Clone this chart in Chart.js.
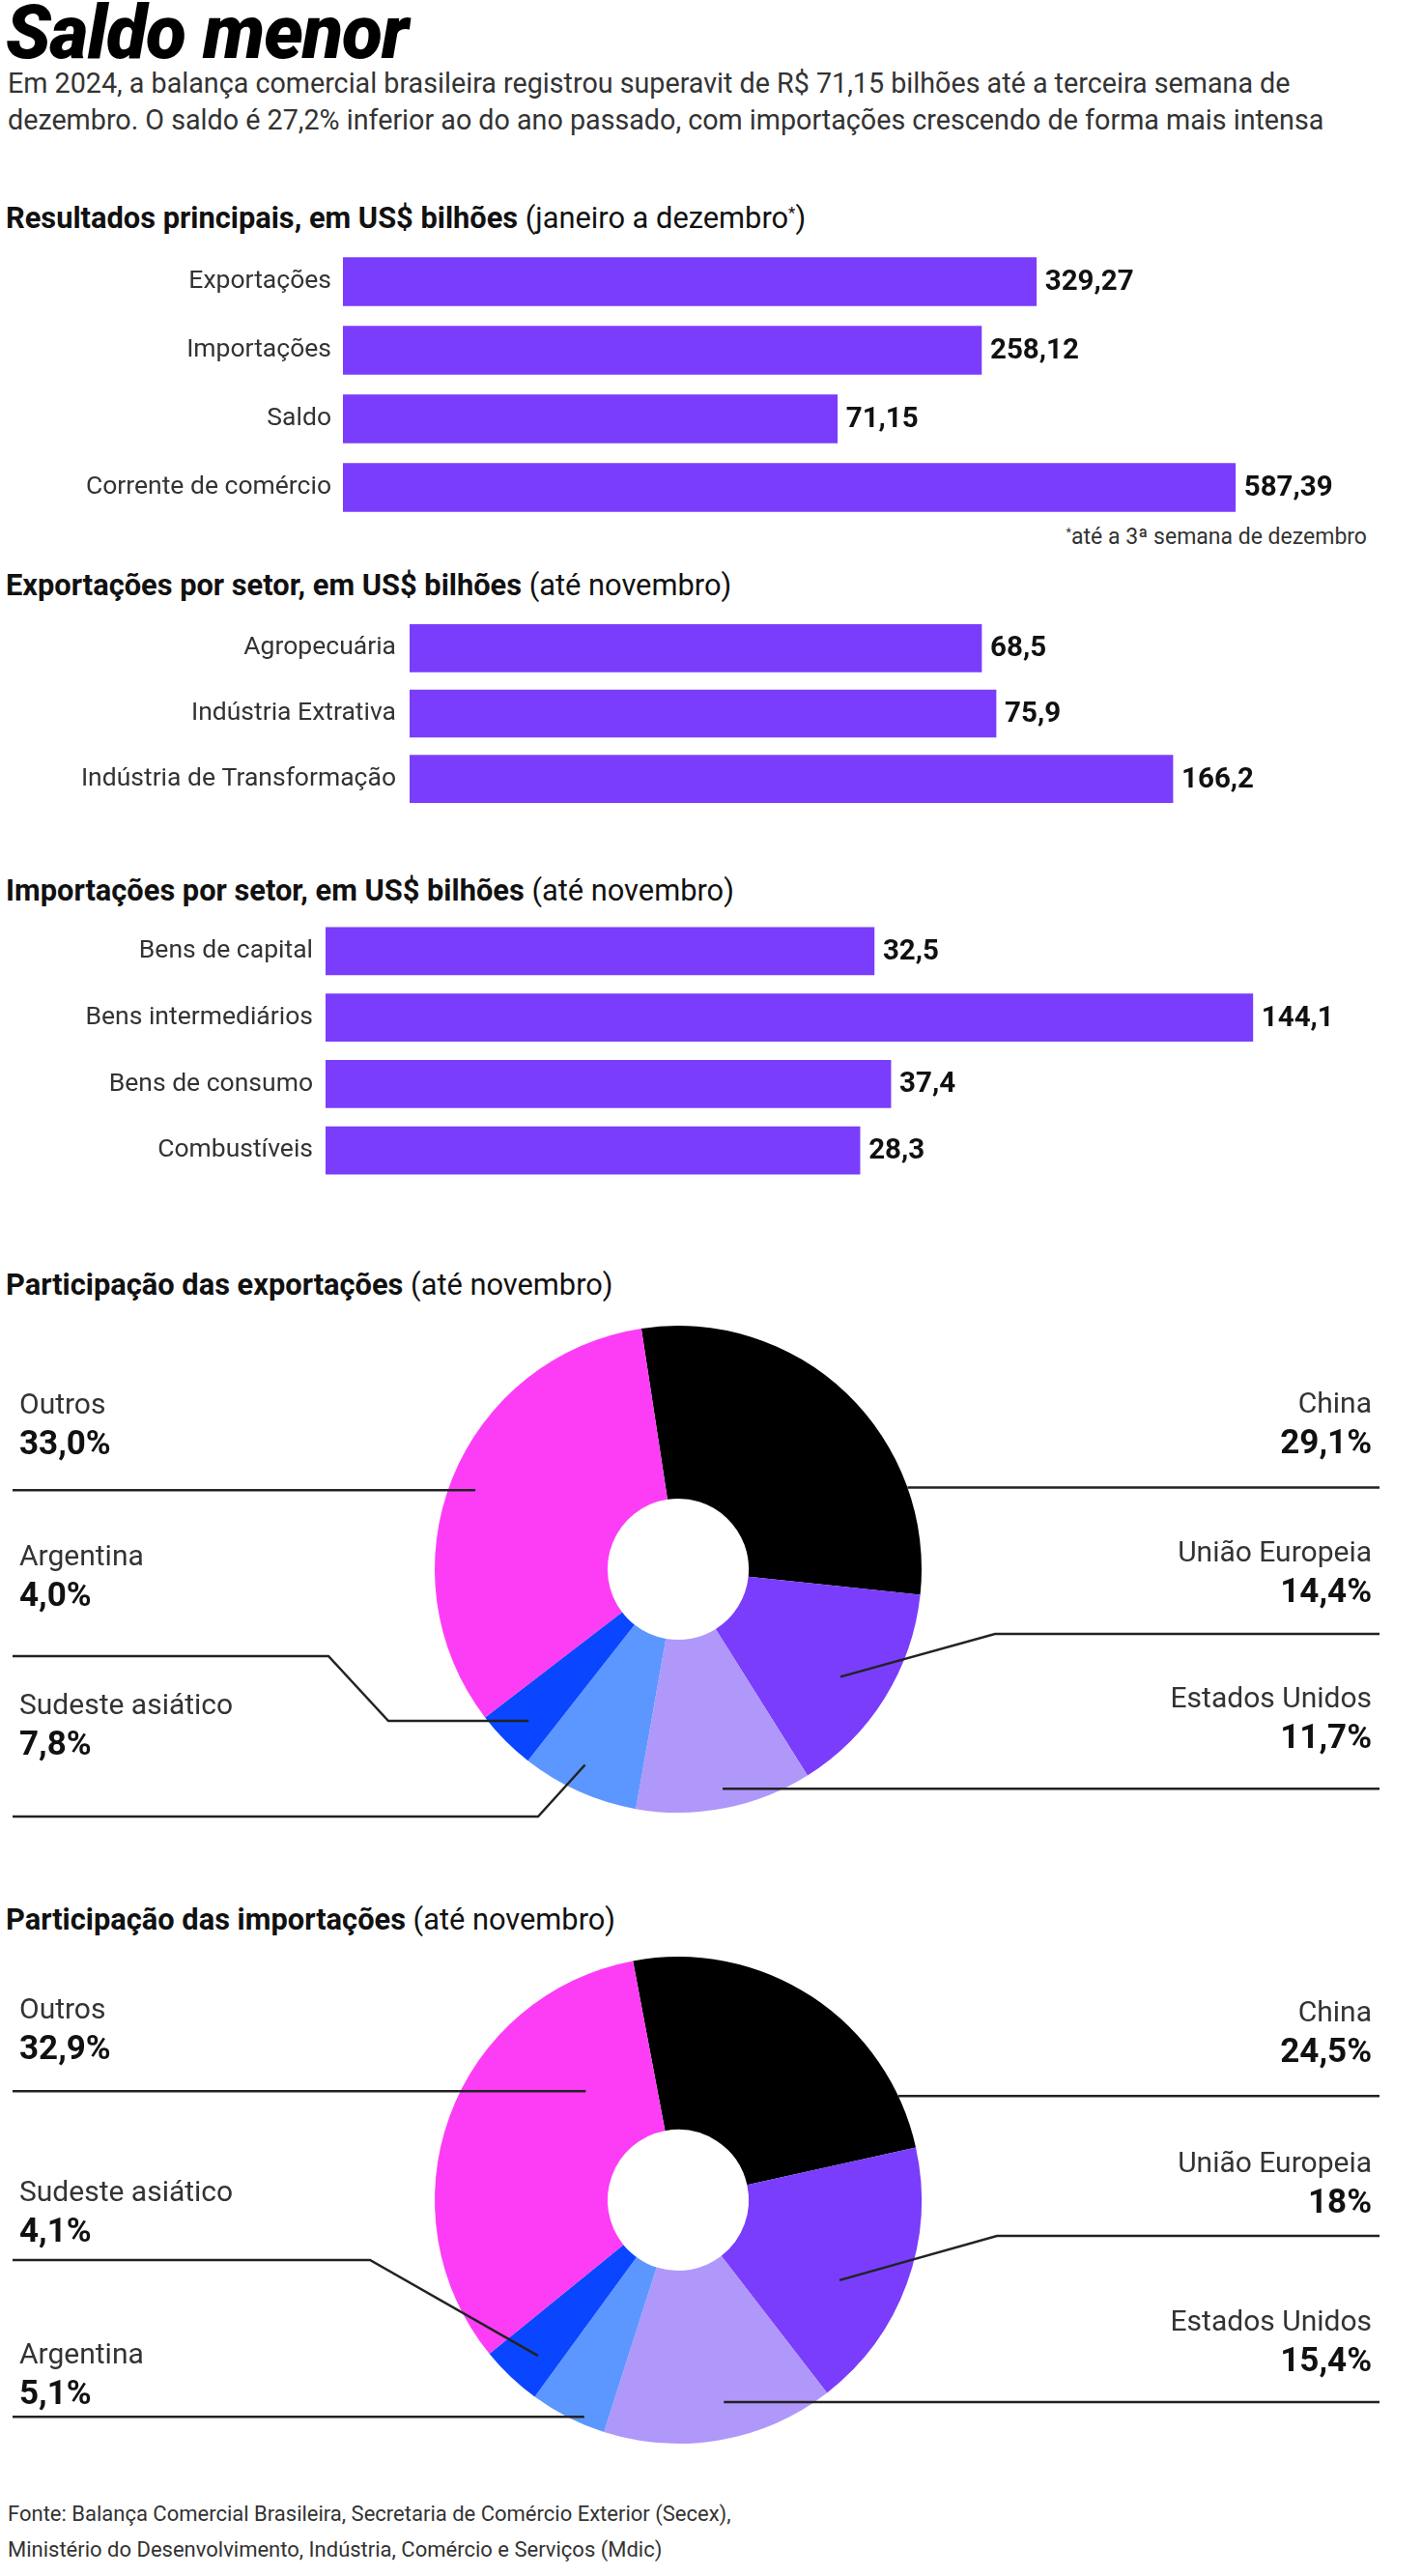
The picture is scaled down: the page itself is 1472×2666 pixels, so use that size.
<!DOCTYPE html>
<html lang="pt-BR">
<head>
<meta charset="utf-8">
<title>Saldo menor</title>
<script src="https://cdn.jsdelivr.net/npm/chart.js@4.4.1/dist/chart.umd.min.js"></script>
<style>
  body { margin: 0; background: #fff; font-family: Roboto, "Noto Sans", sans-serif; color: #333; }
  #pagina { position: relative; width: 1472px; height: 2666px; overflow: hidden; background: #fff; }
  .txt { position: absolute; white-space: nowrap; margin: 0; }
  h1.txt { left: 6px; top: -4px; font-size: 77px; line-height: 77px; font-weight: 900; font-style: italic; color: #000; letter-spacing: -1px; }
  .sub { left: 8px; top: 67px; font-size: 28.7px; line-height: 38px; color: #333; }
  .secao { left: 6px; font-size: 30.8px; line-height: 30px; color: #111; }
  .secao b { font-weight: 700; }
  .nota { right: 57px; top: 543px; font-size: 23px; line-height: 26px; color: #333; }
  .fonte { left: 8px; top: 2583px; font-size: 22px; line-height: 37px; color: #333; }
  sup { font-size: 0.55em; vertical-align: 0.6em; line-height: 0; }
  canvas { position: absolute; left: 0; }
</style>
</head>
<body>
<div id="pagina">
  <h1 class="txt">Saldo menor</h1>
  <p class="txt sub">Em 2024, a balança comercial brasileira registrou superavit de R$ 71,15 bilhões até a terceira semana de<br>dezembro. O saldo é 27,2% inferior ao do ano passado, com importações crescendo de forma mais intensa</p>

  <div class="txt secao" style="top:211px"><b>Resultados principais, em US$ bilhões</b> (janeiro a dezembro<sup>*</sup>)</div>
  <canvas id="graficoResultados" width="1472" height="284" style="top:256px"></canvas>
  <div class="txt nota"><sup>*</sup>até a 3ª semana de dezembro</div>

  <div class="txt secao" style="top:591px"><b>Exportações por setor, em US$ bilhões</b> (até novembro)</div>
  <canvas id="graficoSetorExp" width="1472" height="203" style="top:637px"></canvas>

  <div class="txt secao" style="top:907px"><b>Importações por setor, em US$ bilhões</b> (até novembro)</div>
  <canvas id="graficoSetorImp" width="1472" height="275" style="top:950px"></canvas>

  <div class="txt secao" style="top:1315px"><b>Participação das exportações</b> (até novembro)</div>
  <canvas id="graficoPartExp" width="1472" height="560" style="top:1360px"></canvas>

  <div class="txt secao" style="top:1972px"><b>Participação das importações</b> (até novembro)</div>
  <canvas id="graficoPartImp" width="1472" height="560" style="top:2000px"></canvas>

  <div class="txt fonte">Fonte: Balança Comercial Brasileira, Secretaria de Comércio Exterior (Secex),<br>Ministério do Desenvolvimento, Indústria, Comércio e Serviços (Mdic)</div>
</div>

<script>
// Dados
const resultadosLabels = ["Exportações", "Importações", "Saldo", "Corrente de comércio"];
const resultadosValores = [329.27, 258.12, 71.15, 587.39];

const setorExpLabels = ["Agropecuária", "Indústria Extrativa", "Indústria de Transformação"];
const setorExpValores = [68.5, 75.9, 166.2];

const setorImpLabels = ["Bens de capital", "Bens intermediários", "Bens de consumo", "Combustíveis"];
const setorImpValores = [32.5, 144.1, 37.4, 28.3];

const partExpLabels = ["China", "União Europeia", "Estados Unidos", "Sudeste asiático", "Argentina", "Outros"];
const partExpValores = [29.1, 14.4, 11.7, 7.8, 4.0, 33.0];
const partExpCasas = [1, 1, 1, 1, 1, 1];

const partImpLabels = ["China", "União Europeia", "Estados Unidos", "Argentina", "Sudeste asiático", "Outros"];
const partImpValores = [24.5, 18, 15.4, 5.1, 4.1, 32.9];
const partImpCasas = [1, 0, 1, 1, 1, 1];

const roxo = "#7A3DFC";
const coresPizza = ["#000000", "#7A3DFC", "#B097FA", "#5C97FF", "#0A46FF", "#FD3DF6"];

// posição das chamadas das pizzas (frac/raio = ponto dentro da fatia)
const chamadasExp = [
  { lado: "dir", nomeY: 94, frac: 0.755, raio: 1.0 },
  { lado: "dir", nomeY: 248, frac: 0.53, raio: 0.8, linhaY: 331, cotovelo: 1030 },
  { lado: "dir", nomeY: 399, frac: 0.49, raio: 0.92 },
  { lado: "esq", nomeY: 406, frac: 0.55, raio: 0.89, linhaY: 520, cotovelo: 557 },
  { lado: "esq", nomeY: 252, frac: 0.45, raio: 0.875, linhaY: 354, cotovelo: 340, cotovelo2: 402 },
  { lado: "esq", nomeY: 95, frac: 0.495, raio: 0.894 }
];
const chamadasImp = [
  { lado: "dir", nomeY: 84, frac: 0.855, raio: 1.0 },
  { lado: "dir", nomeY: 240, frac: 0.6, raio: 0.74, linhaY: 314, cotovelo: 1032 },
  { lado: "dir", nomeY: 404, frac: 0.45, raio: 0.85 },
  { lado: "esq", nomeY: 438, frac: 0.31, raio: 0.97 },
  { lado: "esq", nomeY: 270, frac: 0.4, raio: 0.86, linhaY: 339, cotovelo: 383 },
  { lado: "esq", nomeY: 81, frac: 0.75, raio: 0.587 }
];

Chart.defaults.font.family = "Roboto, 'Noto Sans', sans-serif";
Chart.defaults.animation = false;

function formatar(valor, casas) {
  return valor.toFixed(casas).replace(".", ",");
}

// Escreve o valor na ponta de cada barra
const valorRotulos = {
  id: "valorRotulos",
  afterDatasetsDraw(chart, args, opts) {
    const ctx = chart.ctx;
    const dados = chart.data.datasets[0].data;
    ctx.save();
    ctx.font = "700 29.5px Roboto";
    ctx.fillStyle = "#111";
    ctx.textAlign = "left";
    ctx.textBaseline = "middle";
    chart.getDatasetMeta(0).data.forEach((barra, i) => {
      ctx.fillText(formatar(dados[i], opts.casas), barra.x + 9, barra.y + 1);
    });
    ctx.restore();
  }
};

// Linhas de chamada e rótulos das fatias
const chamadas = {
  id: "chamadas",
  afterDraw(chart, args, opts) {
    const ctx = chart.ctx;
    const dados = chart.data.datasets[0].data;
    const nomes = chart.data.labels;
    ctx.save();
    chart.getDatasetMeta(0).data.forEach((arco, i) => {
      const c = opts.layout[i];
      const ang = arco.startAngle + c.frac * (arco.endAngle - arco.startAngle);
      const ax = arco.x + Math.cos(ang) * arco.outerRadius * c.raio;
      const ay = arco.y + Math.sin(ang) * arco.outerRadius * c.raio;
      const esquerda = c.lado === "esq";
      const linhaY = c.linhaY ?? ay;

      const pontos = [[esquerda ? 13 : 1428, linhaY]];
      if (c.cotovelo) pontos.push([c.cotovelo, linhaY]);
      if (c.cotovelo2) pontos.push([c.cotovelo2, ay]);
      pontos.push([ax, ay]);

      ctx.beginPath();
      pontos.forEach((p, k) => k ? ctx.lineTo(p[0], p[1]) : ctx.moveTo(p[0], p[1]));
      ctx.strokeStyle = "#222";
      ctx.lineWidth = 2.5;
      ctx.stroke();

      const tx = esquerda ? 20 : 1420;
      ctx.textAlign = esquerda ? "left" : "right";
      ctx.textBaseline = "middle";
      ctx.font = "400 30px Roboto";
      ctx.fillStyle = "#333";
      ctx.fillText(nomes[i], tx, c.nomeY);
      ctx.font = "700 35px Roboto";
      ctx.fillStyle = "#111";
      ctx.fillText(formatar(dados[i], opts.casas[i]) + "%", tx, c.nomeY + 41);
    });
    ctx.restore();
  }
};

function criarBarras(id, labels, valores, cfg) {
  const ctx = document.getElementById(id).getContext("2d");
  return new Chart(ctx, {
    type: "bar",
    data: {
      labels: labels,
      datasets: [{
        data: valores,
        backgroundColor: roxo,
        borderWidth: 0,
        barThickness: cfg.espessura,
        base: cfg.min
      }]
    },
    options: {
      responsive: false,
      indexAxis: "y",
      layout: { padding: { left: 0, right: 172, top: 0, bottom: 0 } },
      plugins: {
        legend: { display: false },
        tooltip: { enabled: false },
        valorRotulos: { casas: cfg.casas }
      },
      scales: {
        x: { display: false, min: cfg.min, max: cfg.max },
        y: {
          grid: { display: false, drawTicks: false },
          border: { display: false },
          ticks: { color: "#333", font: { size: 26.5 }, padding: cfg.recuo },
          afterFit(scale) {
            scale.width = cfg.eixo;
            scale.paddingTop = 0;
            scale.paddingBottom = 0;
          }
        }
      }
    },
    plugins: [valorRotulos]
  });
}

function criarPizza(id, labels, valores, cfg) {
  const ctx = document.getElementById(id).getContext("2d");
  return new Chart(ctx, {
    type: "doughnut",
    data: {
      labels: labels,
      datasets: [{
        data: valores,
        backgroundColor: coresPizza,
        borderWidth: 0,
        hoverOffset: 0,
        offset: 0
      }]
    },
    options: {
      responsive: false,
      cutout: "29%",
      rotation: cfg.rotacao,
      layout: { padding: { left: 450, right: 518, top: cfg.topo, bottom: 560 - 504 - cfg.topo } },
      plugins: {
        legend: { display: false },
        tooltip: { enabled: false },
        chamadas: { layout: cfg.chamadas, casas: cfg.casas }
      }
    },
    plugins: [chamadas]
  });
}

criarBarras("graficoResultados", resultadosLabels, resultadosValores,
  { min: -570, max: 614, eixo: 355, recuo: 12, espessura: 50, casas: 2 });
criarBarras("graficoSetorExp", setorExpLabels, setorExpValores,
  { min: -223.6, max: 208.6, eixo: 424, recuo: 14, espessura: 49, casas: 1 });
criarBarras("graficoSetorImp", setorImpLabels, setorImpValores,
  { min: -129.2, max: 145, eixo: 337, recuo: 13, espessura: 49, casas: 1 });

criarPizza("graficoPartExp", partExpLabels, partExpValores,
  { rotacao: -8.7, topo: 12, chamadas: chamadasExp, casas: partExpCasas });
criarPizza("graficoPartImp", partImpLabels, partImpValores,
  { rotacao: -10.7, topo: 25, chamadas: chamadasImp, casas: partImpCasas });
</script>
</body>
</html>
